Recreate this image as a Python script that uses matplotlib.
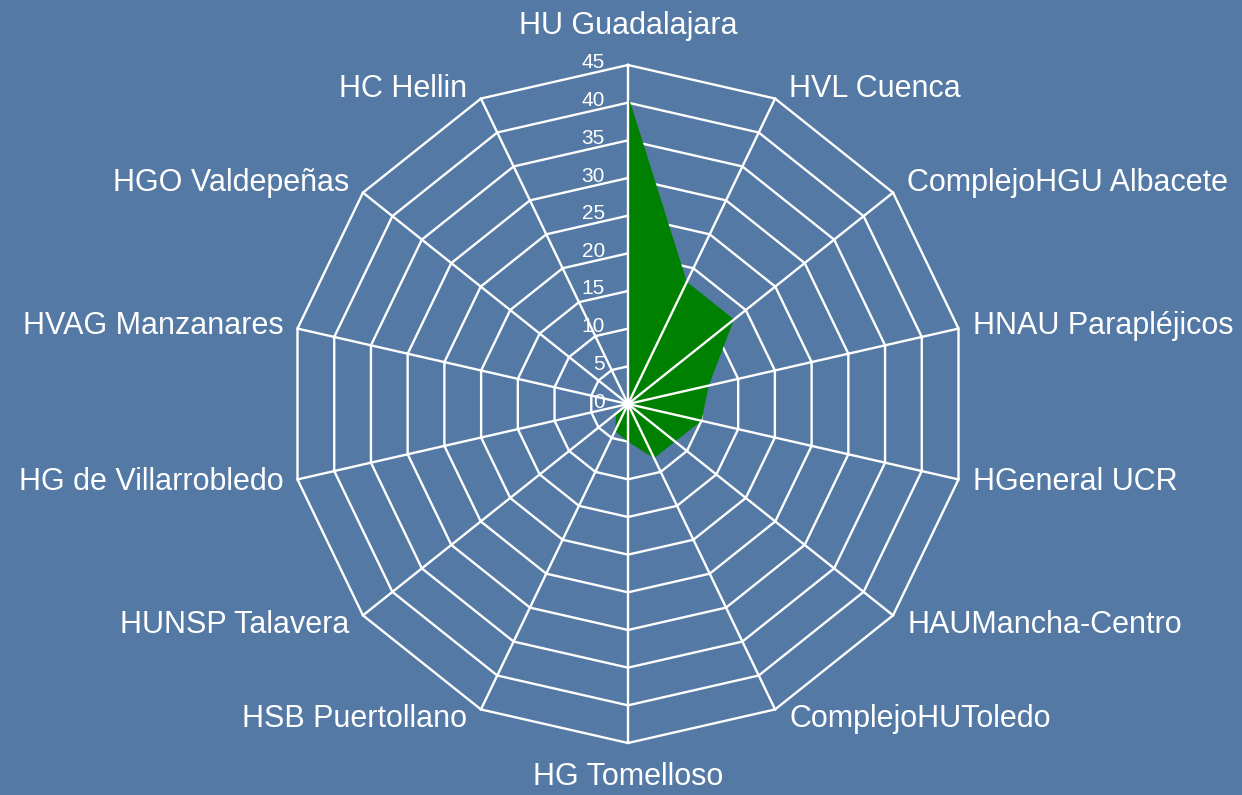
import numpy as np
import matplotlib
matplotlib.use("Agg")
import matplotlib.pyplot as plt

categories = ["HU Guadalajara", "HVL Cuenca", "ComplejoHGU Albacete", "HNAU Parapléjicos",
              "HGeneral UCR", "HAUMancha-Centro", "ComplejoHUToledo", "HG Tomelloso",
              "HSB Puertollano", "HUNSP Talavera", "HG de Villarrobledo", "HVAG Manzanares",
              "HGO Valdepeñas", "HC Hellin"]
values = [41, 18, 18, 11, 10, 8, 8, 5, 4, 2, 0, 0, 0, 0]
rticks = [0, 5, 10, 15, 20, 25, 30, 35, 40, 45]

bg = "#5479a5"
green = "#008000"

plt.rcParams['font.family'] = ['Liberation Sans', 'DejaVu Sans']

W, H = 1242, 795
fig = plt.figure(figsize=(W / 100, H / 100), dpi=100, facecolor=bg)
cx, cy, R = 628, 404, 339
ax = fig.add_axes([(cx - R) / W, (H - cy - R) / H, 2 * R / W, 2 * R / H], projection='polar')
ax.set_facecolor('none')
ax.patch.set_alpha(0)
ax.set_theta_zero_location('N')
ax.set_theta_direction(-1)
ax.set_ylim(0, rticks[-1])
ax.grid(False)
ax.spines['polar'].set_visible(False)
ax.set_xticks([])
ax.set_yticks([])

n = len(categories)
angles = np.arange(n) * 2 * np.pi / n
closed = np.concatenate([angles, angles[:1]])

# ring gridlines (behind fill)
for r in rticks[1:]:
    ax.plot(closed, [r] * (n + 1), color='white', lw=1.7, zorder=1, clip_on=False)

ax.fill(closed, values + values[:1], color=green, zorder=2, lw=0)

# spokes on top
for a in angles:
    ax.plot([a, a], [0, rticks[-1]], color='white', lw=1.7, zorder=3, clip_on=False)

# radial tick labels
for r in rticks:
    ax.annotate(str(r), xy=(0, r), xytext=(-23, 2), textcoords='offset pixels',
                ha='right', va='center', color='white', fontsize=15, zorder=4,
                annotation_clip=False)

# category labels
for a, lab in zip(angles, categories):
    s, c = np.sin(a), np.cos(a)
    if abs(s) < 1e-6:
        ha = 'center'
        dx = 0
        dy = 39 if c > 0 else -34
    else:
        ha = 'left' if s > 0 else 'right'
        dx = 14 if s > 0 else -14
        dy = (10 if abs(c) > 0.5 else 3) * np.sign(c)
    ax.annotate(lab, xy=(a, rticks[-1]), xytext=(dx, dy), textcoords='offset pixels',
                ha=ha, va='center', color='white', fontsize=22, annotation_clip=False)

fig.savefig("out.png", dpi=100, facecolor=bg)
